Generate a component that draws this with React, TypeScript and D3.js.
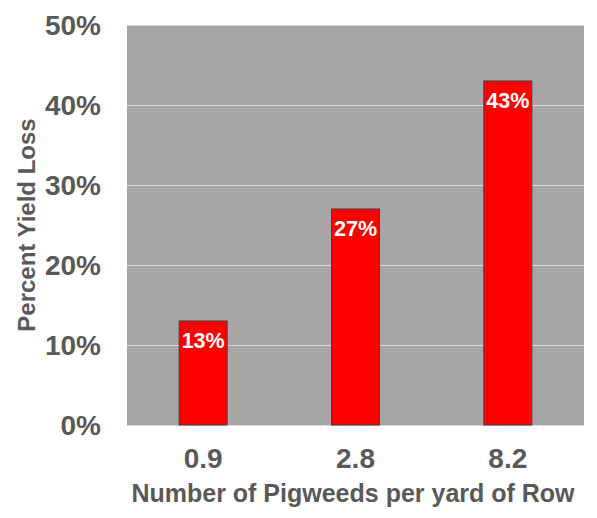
import React from 'react';
import { scaleBand, scaleLinear } from 'd3';

const categories = ['0.9', '2.8', '8.2'];
const yieldLoss = [13, 27, 43];
const yTicks = [0, 10, 20, 30, 40, 50];

const W = 597;
const H = 518;
const margin = { top: 25, right: 13, bottom: 93, left: 127 };
const font = 'Arial, "Liberation Sans", Helvetica, sans-serif';
const textColor = '#595959';

export default function App() {
  const x0 = margin.left;
  const x1 = W - margin.right;
  const y0 = H - margin.bottom;
  const y1 = margin.top;

  const x = scaleBand<string>().domain(categories).range([x0, x1]).padding(0);
  const y = scaleLinear().domain([0, 50]).range([y0, y1]);
  const barW = x.bandwidth() * 0.315;

  return (
    <div style={{ position: 'absolute', left: 0, top: 0, width: W, height: H, background: '#fff' }}>
      <svg width={W} height={H} style={{ display: 'block' }} fontFamily={font}>
        {/* plot background */}
        <rect x={x0} y={y1} width={x1 - x0} height={y0 - y1} fill="#a6a6a6" />

        {/* gridlines */}
        {yTicks.map(t => (
          <line
            key={t}
            x1={x0}
            x2={x1}
            y1={y(t) + 0.5}
            y2={y(t) + 0.5}
            stroke="#d9d9d9"
            strokeWidth={1}
          />
        ))}

        {/* y tick labels */}
        {yTicks.map(t => (
          <text
            key={'yl' + t}
            x={101}
            y={y(t) + 10}
            textAnchor="end"
            fontSize={28}
            fontWeight="bold"
            fill={textColor}
          >
            {t}%
          </text>
        ))}

        {/* bars */}
        {categories.map((c, i) => {
          const cx = (x(c) ?? 0) + x.bandwidth() / 2;
          const top = y(yieldLoss[i]);
          return (
            <g key={c}>
              <rect
                x={cx - barW / 2}
                y={top}
                width={barW}
                height={y0 - top}
                fill="#ff0000"
                stroke="#404040"
                strokeWidth={1}
              />
              <text
                x={cx}
                y={top + 27}
                textAnchor="middle"
                fontSize={21.5}
                fontWeight="bold"
                fill="#fff"
              >
                {yieldLoss[i]}%
              </text>
              <text
                x={cx}
                y={468}
                textAnchor="middle"
                fontSize={28}
                fontWeight="bold"
                fill={textColor}
              >
                {c}
              </text>
            </g>
          );
        })}

        {/* axis titles */}
        <text
          x={353}
          y={502}
          textAnchor="middle"
          fontSize={25}
          fontWeight="bold"
          fill={textColor}
        >
          Number of Pigweeds per yard of Row
        </text>
        <text
          transform={`translate(35, ${(y0 + y1) / 2}) rotate(-90)`}
          textAnchor="middle"
          fontSize={24}
          fontWeight="bold"
          fill={textColor}
        >
          Percent Yield Loss
        </text>
      </svg>
    </div>
  );
}
